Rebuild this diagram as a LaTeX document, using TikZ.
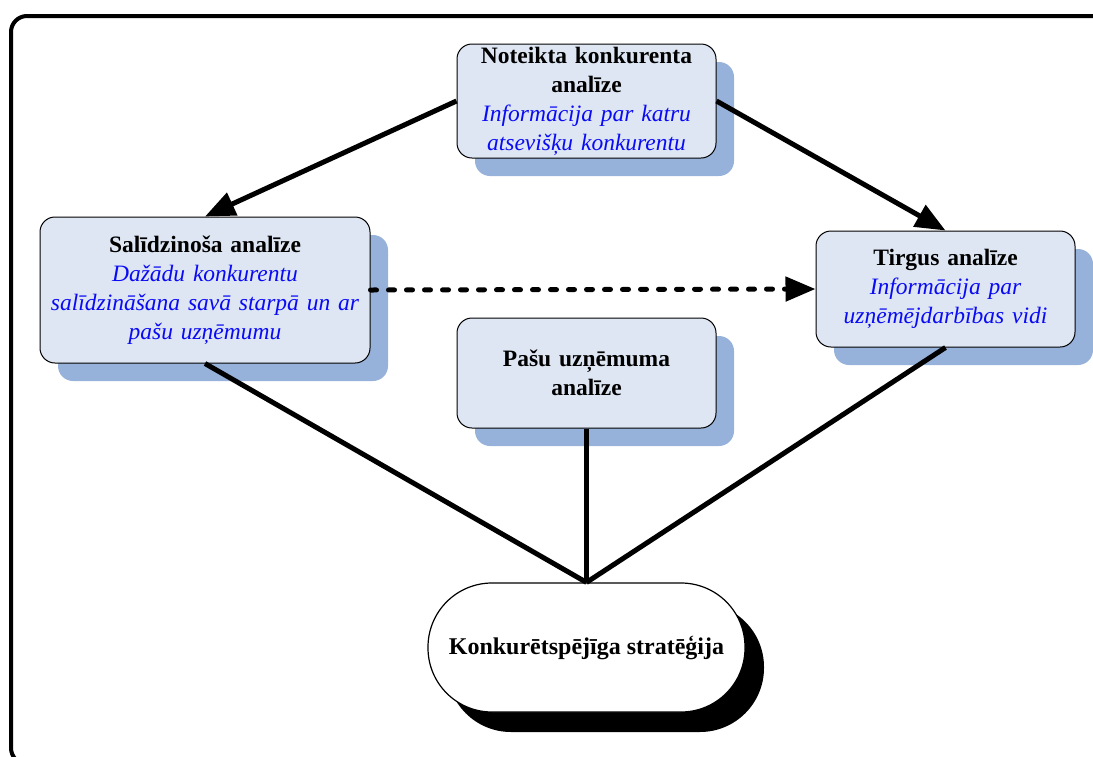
\documentclass[tikz,border=0pt]{standalone}
\usepackage{fontspec}
\setmainfont{Liberation Serif}
\usetikzlibrary{arrows.meta,shadows}
\definecolor{boxfill}{RGB}{221,230,242}
\definecolor{boxshade}{RGB}{150,178,218}
\definecolor{desc}{RGB}{10,10,245}
\begin{document}
\begin{tikzpicture}[x=1pt,y=-1pt,
  panel/.style={draw=black, line width=1pt, fill=boxfill, rounded corners=15pt,
    align=center, inner sep=0pt,
    font=\fontsize{23.5}{29}\selectfont\bfseries,
    drop shadow={shadow xshift=18pt, shadow yshift=-18pt, fill=boxshade, opacity=1}},
  goal/.style={draw=black, line width=1.2pt, fill=white, rounded corners=64pt,
    align=center, inner sep=0pt,
    font=\fontsize{24}{28}\selectfont\bfseries,
    drop shadow={shadow xshift=19pt, shadow yshift=-20pt, fill=black, opacity=1}},
  link/.style={line width=5pt},
  flow/.style={link, -{Triangle[length=30pt,width=24pt]}},
  hint/.style={link, line cap=round, dash pattern=on 6pt off 12pt,
    -{Triangle[length=30pt,width=24pt]}}
]
\useasboundingbox (0,0) rectangle (1093,756);
% outer frame
\draw[line width=4pt, rounded corners=16pt] (11,16) rectangle (1108,764);

% analysis blocks
\node[panel, minimum width=259pt, minimum height=114pt, text width=255pt] (single) at (586.5,101)
  {Noteikta konkurenta\\analīze\\{\color{desc}\itshape\mdseries Informācija par katru\\atsevišķu konkurentu}};
\node[panel, minimum width=330pt, minimum height=146pt, text width=326pt] (compare) at (205,290)
  {Salīdzinoša analīze\\{\color{desc}\itshape\mdseries Dažādu konkurentu\\salīdzināšana savā starpā un ar\\pašu uzņēmumu}};
\node[panel, minimum width=259pt, minimum height=116pt, text width=255pt] (market) at (945.5,289)
  {Tirgus analīze\\{\color{desc}\itshape\mdseries Informācija par\\uzņēmējdarbības vidi}};
\node[panel, minimum width=259pt, minimum height=110pt, text width=255pt] (own) at (586.5,373)
  {Pašu uzņēmuma\\analīze};
\node[goal, minimum width=317pt, minimum height=129pt] (strategy) at (586.5,647.5)
  {Konkurētspējīga stratēģija};

% connectors
\draw[flow] (single.west) -- (compare.north);
\draw[flow] (single.east) -- (market.north);
\draw[hint] (compare.east) -- (market.west);
\draw[link] (compare.south) -- (strategy.north);
\draw[link] (own.south) -- (strategy.north);
\draw[link] (market.south) -- (strategy.north);
\end{tikzpicture}
\end{document}
